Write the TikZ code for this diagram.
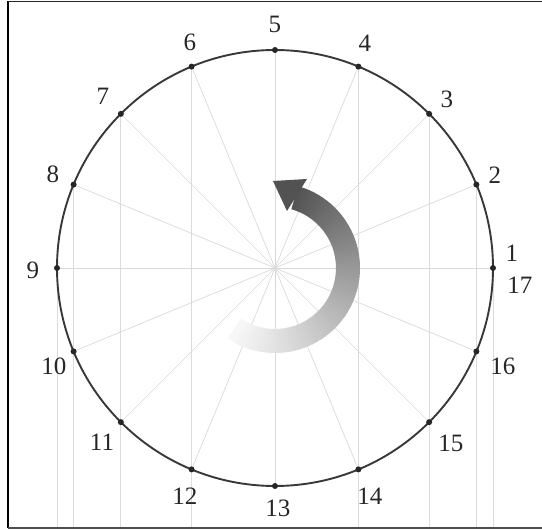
\documentclass[tikz,border=0pt]{standalone}
\usepackage{fontspec}
\setmainfont{Liberation Serif}
\begin{document}
\begin{tikzpicture}[x=1pt,y=1pt,
  radial/.style={draw=black!15, line width=0.7pt},
  vline/.style={draw=black!14, line width=0.9pt},
  rim/.style={draw=black!78, line width=1.9pt},
  dot/.style={circle, fill=black!85, inner sep=0pt, minimum size=6pt},
  lab/.style={font=\fontsize{25}{25}\selectfont, text=black!85, inner sep=0pt},
  frameline/.style={draw=black!85, line width=1.6pt}]
\useasboundingbox (-275,-262) rectangle (267,268);
\coordinate (c) at (0,0);
\coordinate (bot) at (0,-260);
\foreach \i in {1,...,16} { \coordinate (p\i) at ({(\i-1)*22.5}:218); }
% vertical construction lines
\foreach \i in {1,2,3,4,6,7,8,9} { \draw[vline] (p\i) -- (p\i |- bot); }
% radial lines
\foreach \i in {1,...,16} { \draw[radial] (c) -- (p\i); }
% shaded curved arrow
\foreach \a in {-124,-122,...,72} {
  \pgfmathsetmacro\k{3+64*((\a+124)/196)^1.15}
  \fill[black!\k] (\a:61) arc[start angle=\a, end angle=\a+2.4, radius=61pt]
     -- ({\a+2.4}:85) arc[start angle=\a+2.4, end angle=\a, radius=85pt] -- cycle;
}
\coordinate (hout) at (32,89);
\coordinate (hin) at (12,57);
\coordinate (htip) at (-2,87);
\fill[black!68] (hout) -- (htip) -- (hin) -- cycle;
% circle and points
\draw[rim] (c) circle[radius=218pt];
\foreach \i in {1,...,16} { \node[dot] (d\i) at (p\i) {}; }
% labels
\node[lab] (l1) at (237,15) {1};
\node[lab] (l2) at (220,93) {2};
\node[lab] (l3) at (172,169) {3};
\node[lab] (l4) at (90,225) {4};
\node[lab] (l5) at (0,244) {5};
\node[lab] (l6) at (-85,226) {6};
\node[lab] (l7) at (-172,172) {7};
\node[lab] (l8) at (-222,94) {8};
\node[lab] (l9) at (-242,-2) {9};
\node[lab] (l10) at (-221,-98) {10};
\node[lab] (l11) at (-173,-174) {11};
\node[lab] (l12) at (-90,-228) {12};
\node[lab] (l13) at (3,-240) {13};
\node[lab] (l14) at (95,-228) {14};
\node[lab] (l15) at (176,-175) {15};
\node[lab] (l16) at (228,-98) {16};
\node[lab] (l17) at (245,-17) {17};
% frame
\coordinate (fbl) at (-267,-260);
\coordinate (ftl) at (-267,266.5);
\coordinate (ftr) at (280,266.5);
\coordinate (fbr) at (280,-260);
\draw[frameline, line width=2.6pt, draw=black] (fbl) -- (ftl);
\draw[frameline] (ftl) -- (ftr);
\draw[frameline, draw=black!70, line width=2pt] (fbl) -- (fbr);
\end{tikzpicture}
\end{document}
